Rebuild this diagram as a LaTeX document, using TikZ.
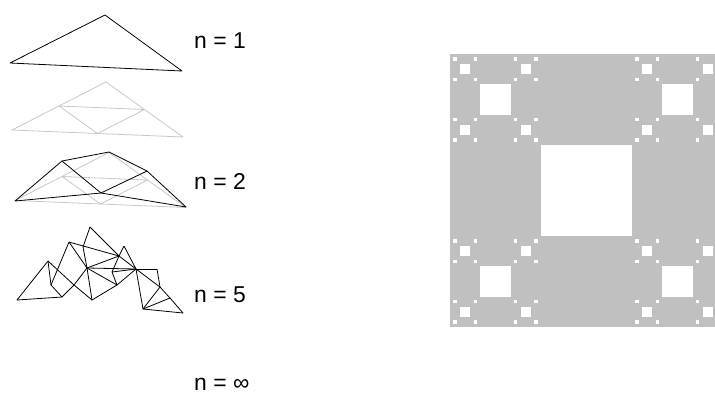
\documentclass[tikz,border=0pt]{standalone}
\usepackage{fontspec}
\setmainfont{Liberation Sans}

\definecolor{carpet}{RGB}{192,192,192}
\definecolor{faint}{RGB}{200,200,200}

\newcommand*{\cx}{586.5}
\newcommand*{\cy}{190.5}
\newcommand*{\cs}{273}

\begin{document}
\begin{tikzpicture}
[
	x=1bp,y=-1bp,
	wire/.style={black,line width=0.8pt,line join=round},
	ghost/.style={faint,line width=0.8pt,line join=round},
	hole/.style={fill=white},
	tag/.style={anchor=base west,inner sep=0pt,font=\fontsize{23}{26}\selectfont}
]

	\useasboundingbox (0,0) rectangle (715,396);
	\clip (0,0) rectangle (715,396);

	% n = 1
	\draw[wire] (10,63) -- (105,15) -- (182,71) -- cycle;
	\node[tag] (one) at (194,48) {n = 1};

	% subdivided copies (the second one lies under n = 2)
	\foreach \dx/\dy in {0/0,3/70.5} {
		\begin{scope}[shift={(\dx,\dy)}]
			\draw[ghost] (12,130) -- (106,82) -- (183,137) -- cycle;
			\draw[ghost] (59,106) -- (144.5,109.5) -- (97.5,133.5) -- cycle;
		\end{scope}
	}

	% n = 2
	\coordinate (l2) at (15,201);
	\coordinate (p2) at (62,161);
	\coordinate (t2) at (109,152);
	\coordinate (s2) at (147,171);
	\coordinate (r2) at (186,207);
	\coordinate (m2) at (101,193);
	\draw[wire] (l2) -- (p2) -- (t2) -- (s2) -- (r2) -- (m2) -- cycle;
	\draw[wire] (p2) -- (m2) -- (s2);
	\node[tag] (two) at (194,189) {n = 2};

	% n = 5
	\foreach \name/\pos in {a/{17,300},b/{48,261},c/{51,285},d/{62,297},
		e/{69,242},f/{90,227},g/{83,247},h/{87,268},i/{74,285},j/{92,300},
		k/{119,256},l/{124,246},m/{112,272},n/{117,285},o/{136,269},
		p/{157,269},q/{160,287},r/{143,309},s/{170,298},t/{183,313}}
		\coordinate (\name) at (\pos);
	\foreach \u/\v in {a/b,a/d,b/c,c/d,b/i,e/c,e/h,e/k,f/g,f/k,l/k,g/h,
		h/i,i/d,h/j,h/k,h/o,h/n,i/j,j/n,l/o,k/o,k/m,m/n,m/o,n/o,o/p,p/q,
		o/q,o/r,q/r,q/s,s/r,s/t,r/t}
		\draw[wire] (\u) -- (\v);
	\node[tag] (five) at (194,302) {n = 5};

	% n = infinity
	\node[tag] (limit) at (194,390) {n = ∞};

	% carpet
	\fill[carpet] ({\cx-\cs/2},{\cy-\cs/2}) rectangle ++(\cs,\cs);
	\fill[hole] ({\cx-\cs/6},{\cy-\cs/6}) rectangle ++({\cs/3},{\cs/3});
	\foreach \i in {-1,1} {
		\foreach \j in {-1,1} {
			\fill[hole] ({\cx+\i*\cs/3-\cs/18},{\cy+\j*\cs/3-\cs/18}) rectangle ++({\cs/9},{\cs/9});
			\foreach \k in {-1,1} {
				\foreach \l in {-1,1} {
					\fill[hole] ({\cx+\i*\cs/3+\k*\cs/9-\cs/54},{\cy+\j*\cs/3+\l*\cs/9-\cs/54}) rectangle ++({\cs/27},{\cs/27});
					\foreach \p in {-1,1} {
						\foreach \q in {-1,1} {
							\fill[hole] ({\cx+\i*\cs/3+\k*\cs/9+\p*\cs/27-\cs/162},{\cy+\j*\cs/3+\l*\cs/9+\q*\cs/27-\cs/162}) rectangle ++({\cs/81},{\cs/81});
						}
					}
				}
			}
		}
	}

\end{tikzpicture}
\end{document}
